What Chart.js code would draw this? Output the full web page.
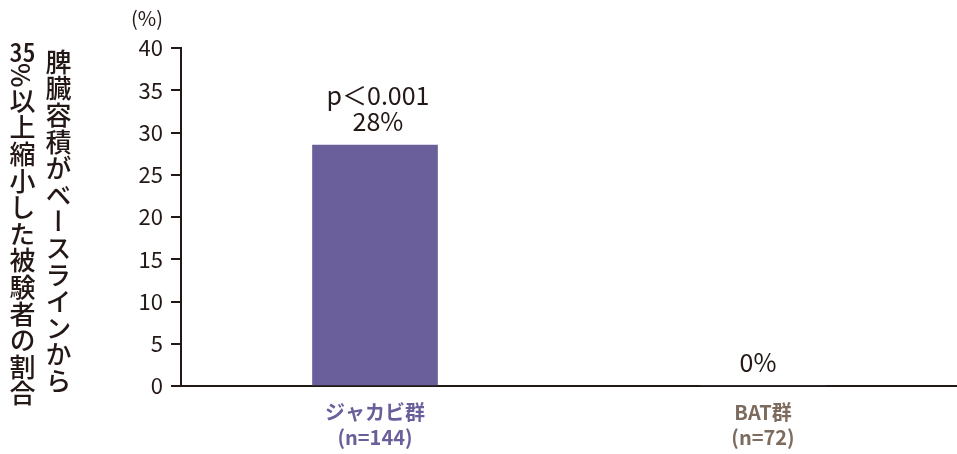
<!DOCTYPE html>
<html>
<head>
<meta charset="utf-8">
<script src="https://cdn.jsdelivr.net/npm/chart.js@4.4.0/dist/chart.umd.min.js"></script>
<style>
  html, body { margin: 0; padding: 0; background: #fff; }
  #wrap { position: relative; width: 957px; height: 454px; }
  #yTitle {
    position: absolute; left: 4px; top: 12px; height: 420px;
    writing-mode: vertical-rl; text-align: center;
    font-family: "Noto Sans CJK JP", sans-serif; font-size: 26px; font-weight: 500;
    line-height: 36px; color: #231815; letter-spacing: 0.6px;
  }
  #yTitle .tcy { text-combine-upright: all; }
  #unit {
    position: absolute; left: 131px; top: 3px;
    font-family: "Noto Sans CJK JP", sans-serif; font-size: 20px; color: #231815;
  }
</style>
</head>
<body>
<div id="wrap">
  <canvas id="c" width="957" height="454"></canvas>
  <div id="yTitle">脾臓容積がベースラインから<br><span class="tcy">35</span>%以上縮小した被験者の割合</div>
  <div id="unit">(%)</div>
</div>
<script>
// --- data ---
const groups = [["ジャカビ群", "(n=144)"], ["BAT群", "(n=72)"]];
const groupColors = ["#6a5f9b", "#7d6b5d"];
const responseRate = [28.5, 0];
const valueLabels = [["p＜0.001", "28%"], ["0%"]];
const yTicks = [0, 5, 10, 15, 20, 25, 30, 35, 40];

const ink = "#231815";
const font = "'Noto Sans CJK JP', sans-serif";

// label above each bar
const barLabels = {
  id: "barLabels",
  afterDatasetsDraw(chart) {
    const ctx = chart.ctx;
    const meta = chart.getDatasetMeta(0);
    ctx.save();
    ctx.fillStyle = ink;
    ctx.font = "25px " + font;
    ctx.textAlign = "center";
    ctx.textBaseline = "middle";
    meta.data.forEach((bar, i) => {
      const lines = valueLabels[i];
      lines.forEach((t, k) => {
        const y = bar.y - 24 - (lines.length - 1 - k) * 26;
        ctx.fillText(t, bar.x + (i == 0 ? 3 : -5), y);
      });
    });
    ctx.restore();
  }
};

new Chart(document.getElementById("c"), {
  type: "bar",
  data: {
    labels: groups,
    datasets: [{
      data: responseRate,
      backgroundColor: groupColors[0],
      barThickness: 125
    }]
  },
  options: {
    responsive: false,
    animation: false,
    layout: { padding: { top: 48, right: 0, left: 0, bottom: 0 } },
    plugins: { legend: { display: false }, tooltip: { enabled: false } },
    scales: {
      x: {
        grid: { display: true, drawOnChartArea: false, drawTicks: false },
        border: { display: true, color: ink, width: 2 },
        ticks: {
          color: (c) => groupColors[c.index],
          font: { family: font, size: 20, weight: "bold", lineHeight: 1.25 },
          padding: 14
        },
        afterFit(s) { s.height = 68; }
      },
      y: {
        min: 0, max: 40,
        afterBuildTicks(s) { s.ticks = yTicks.map(v => ({ value: v })); },
        grid: { drawOnChartArea: false, drawTicks: true, tickLength: 10, color: ink, lineWidth: 2 },
        border: { display: true, color: ink, width: 2 },
        ticks: {
          color: ink,
          font: { family: font, size: 22 },
          padding: 8
        },
        afterFit(s) { s.width = 181; }
      }
    }
  },
  plugins: [barLabels]
});
</script>
</body>
</html>
